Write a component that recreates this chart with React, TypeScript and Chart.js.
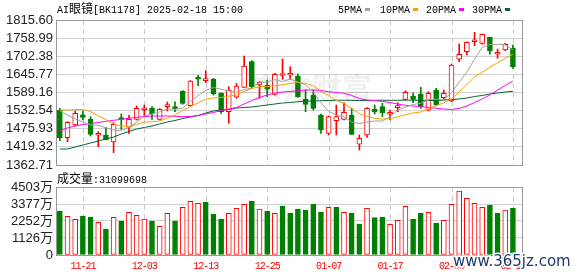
import React, { useEffect, useRef } from 'react';
import { Chart, registerables } from 'chart.js';
Chart.register(...registerables);

const title = 'AI眼镜[BK1178] 2025-02-18 15:00';
const volumeLabel = '成交量:31099698';
const legendNames = ['5PMA', '10PMA', '20PMA', '30PMA'];

const dates = [
  '11-18','11-19','11-20','11-21','11-22','11-25','11-26','11-27','11-28','11-29',
  '12-02','12-03','12-04','12-05','12-06','12-09','12-10','12-11','12-12','12-13',
  '12-16','12-17','12-18','12-19','12-20','12-23','12-24','12-25','12-26','12-27',
  '12-30','12-31','01-02','01-03','01-06','01-07','01-08','01-09','01-10','01-13',
  '01-14','01-15','01-16','01-17','01-20','01-21','01-22','01-23','01-24','01-27',
  '02-05','02-06','02-07','02-10','02-11','02-12','02-13','02-14','02-17','02-18',
];
const labelIndex = [3, 11, 19, 27, 35, 43, 51, 59];

const opens = [
  1533.6,1448.0,1487.6,1519.8,1506.4,1455.5,1456.4,1434.5,1508.0,1480.5,
  1505.4,1535.4,1539.8,1505.4,1544.8,1541.7,1593.8,1547.9,1632.3,1626.0,
  1631.3,1586.7,1529.2,1574.2,1605.4,1685.4,1612.6,1612.6,1583.5,1642.3,
  1642.9,1640.7,1568.9,1581.3,1518.9,1461.7,1501.1,1505.4,1518.9,1427.4,
  1456.4,1537.6,1544.8,1521.1,1541.7,1567.9,1578.2,1583.5,1533.6,1597.0,
  1572.9,1562.6,1692.9,1716.6,1747.8,1742.8,1761.6,1708.5,1721.9,1727.2,
];
const highs = [
  1539.8,1498.0,1531.4,1531.4,1513.6,1466.7,1480.5,1494.8,1522.0,1518.0,
  1547.0,1550.1,1544.8,1538.6,1559.5,1560.4,1595.0,1626.6,1642.9,1657.2,
  1633.5,1588.5,1607.3,1617.9,1703.2,1688.5,1622.9,1628.2,1649.1,1693.8,
  1669.7,1646.9,1597.0,1597.0,1522.0,1515.8,1550.1,1557.3,1539.8,1456.4,
  1541.7,1550.1,1555.4,1534.5,1557.3,1594.8,1588.5,1605.4,1591.6,1602.3,
  1597.0,1678.2,1740.6,1747.8,1777.2,1771.9,1762.5,1725.0,1742.8,1737.5,
];
const lows = [
  1438.6,1435.5,1484.5,1503.3,1453.3,1419.9,1440.8,1401.1,1474.2,1461.7,
  1503.3,1512.6,1505.4,1503.3,1531.4,1529.2,1552.3,1547.0,1610.4,1619.8,
  1581.3,1524.2,1493.0,1571.0,1604.8,1602.3,1571.0,1576.0,1581.3,1630.4,
  1630.4,1574.0,1529.2,1534.5,1461.7,1456.4,1456.4,1503.3,1458.0,1409.6,
  1449.2,1522.0,1513.6,1503.3,1529.2,1565.7,1557.3,1539.8,1531.4,1547.0,
  1565.7,1560.4,1685.4,1706.3,1735.3,1739.7,1708.5,1696.0,1719.7,1664.7,
];
const closes = [
  1448.0,1496.1,1524.2,1511.7,1458.6,1458.6,1441.7,1489.8,1504.8,1505.4,
  1539.8,1538.6,1522.0,1536.7,1549.2,1538.6,1555.4,1625.1,1630.4,1628.2,
  1584.5,1529.2,1597.0,1609.5,1671.9,1607.3,1621.0,1599.2,1646.0,1644.4,
  1644.8,1576.0,1552.3,1539.8,1472.0,1513.6,1513.6,1527.3,1458.6,1446.1,
  1539.8,1529.2,1526.1,1526.1,1547.9,1589.8,1567.9,1544.8,1586.7,1550.1,
  1586.7,1675.0,1708.5,1745.9,1750.0,1770.9,1719.7,1711.6,1739.7,1669.7,
];

const ma5 = [
  1531.4,1518.9,1506.4,1497.0,1487.7,1487.0,1479.0,1472.1,1470.7,1480.1,
  1496.3,1515.7,1522.1,1528.5,1537.3,1537.0,1540.4,1561.0,1579.7,1595.5,
  1604.7,1599.5,1593.9,1589.7,1598.4,1603.0,1621.3,1621.8,1629.1,1623.6,
  1631.1,1622.1,1612.7,1591.5,1557.0,1530.7,1518.3,1513.3,1497.0,1491.8,
  1497.1,1500.2,1500.0,1513.5,1533.8,1543.8,1551.6,1555.3,1567.4,1567.9,
  1567.2,1588.7,1621.4,1653.2,1693.2,1730.1,1739.0,1739.6,1738.4,1722.3,
];
const ma10 = [
  1534.5,1534.5,1535.4,1536.7,1529.2,1515.8,1504.8,1490.8,1484.5,1482.3,
  1489.2,1497.0,1497.6,1500.1,1508.9,1518.9,1533.0,1545.4,1556.4,1568.2,
  1572.0,1573.5,1577.6,1582.3,1592.3,1601.3,1607.9,1607.9,1610.1,1613.2,
  1617.3,1620.4,1617.6,1610.1,1592.9,1578.8,1564.8,1554.8,1539.2,1523.3,
  1513.9,1508.6,1506.4,1507.3,1513.3,1519.8,1525.1,1528.2,1538.3,1548.2,
  1556.7,1569.5,1590.7,1614.1,1637.6,1652.6,1667.6,1682.2,1696.0,1708.5,
];
const ma20 = [
  1468.9,1478.3,1484.5,1489.2,1492.3,1495.4,1499.2,1502.3,1505.4,1508.6,
  1511.7,1513.6,1515.8,1515.8,1515.8,1514.8,1513.6,1514.2,1517.3,1522.0,
  1526.7,1533.0,1537.6,1542.3,1553.2,1564.2,1573.5,1581.3,1587.6,1590.7,
  1592.3,1594.5,1597.0,1597.0,1595.4,1591.7,1589.2,1586.7,1579.8,1570.4,
  1565.7,1563.5,1561.0,1557.9,1553.2,1549.2,1547.0,1544.8,1542.9,1539.8,
  1537.6,1536.1,1539.2,1547.0,1557.9,1568.9,1581.3,1597.0,1611.0,1625.1,
];
const ma30 = [
  1412.7,1412.7,1418.9,1425.2,1431.4,1437.7,1443.9,1450.2,1459.5,1467.3,
  1475.1,1479.8,1484.5,1490.8,1497.0,1501.7,1508.0,1512.6,1517.3,1525.1,
  1531.4,1534.5,1536.1,1540.8,1542.3,1543.9,1547.0,1550.1,1553.2,1556.4,
  1557.9,1560.4,1562.6,1562.6,1563.5,1564.2,1564.8,1565.1,1564.6,1564.3,
  1564.5,1564.9,1565.0,1564.7,1564.9,1565.3,1565.1,1564.9,1564.2,1564.2,
  1565.7,1567.3,1568.9,1572.0,1576.7,1579.8,1584.5,1587.6,1590.7,1592.9,
];

// volume in 万
const volumes = [
  2914,2561,2363,2583,2517,2164,1722,2495,2252,2826,
  2628,2385,2252,1899,2760,2252,3157,3555,3422,3511,
  2716,2385,2760,3091,3356,3577,3047,2914,2760,3246,
  2782,3047,2981,3378,2848,3157,3180,2826,2782,2053,
  3091,2473,2517,2031,2296,3224,2385,2782,2826,2120,
  2296,3356,4239,3754,3422,3157,3312,2782,2981,3110,
];
const volumeUp = [
  0,1,1,0,0,1,0,1,0,1,
  1,1,0,1,1,0,1,1,1,0,
  0,0,1,1,1,0,1,0,1,0,
  0,0,0,0,0,1,0,1,0,0,
  1,0,0,1,1,1,0,0,1,0,
  1,1,1,1,1,1,0,0,1,0,
];

const priceTicks = [1362.71, 1419.32, 1475.93, 1532.54, 1589.16, 1645.77, 1702.38, 1758.99, 1815.60];
const volumeTicks = [0, 1126, 2252, 3377, 4503];

const RED = '#ff0000';
const GREEN = '#008000';
const MA_COLORS = ['#a0a0a0', '#f5a000', '#ff00ff', '#006633'];
const GRID = '#d0d0d0';
const FRAME = '#999999';
const MONO = '10px "Liberation Mono"';
const CJK = '12px "Noto Sans CJK SC"';
const AXIS_FONT = { family: '"Liberation Sans", "Noto Sans CJK SC", sans-serif', size: 13 };

function drawMixed(ctx: CanvasRenderingContext2D, text: string, x: number, y: number) {
  let cx = x;
  for (const ch of Array.from(text)) {
    const isCjk = /[\u2e80-\u9fff\uff00-\uffef]/.test(ch);
    ctx.font = isCjk ? CJK : MONO;
    ctx.fillText(ch, cx, y);
    cx += ctx.measureText(ch).width;
  }
  return cx;
}

function drawFrame(chart: any) {
  const { ctx, chartArea: a } = chart;
  ctx.save();
  ctx.strokeStyle = FRAME;
  ctx.lineWidth = 1;
  const l = Math.round(a.left) + 0.5;
  const t = Math.round(a.top) + 0.5;
  const r = Math.round(a.right) + 0.5;
  const b = Math.round(a.bottom) + 0.5;
  ctx.strokeRect(l, t, r - l, b - t);
  ctx.restore();
}

function drawVGrid(chart: any) {
  const { ctx, chartArea: a, scales } = chart;
  ctx.save();
  ctx.strokeStyle = '#c8c8c8';
  ctx.lineWidth = 1;
  ctx.setLineDash([5, 4]);
  for (const idx of labelIndex) {
    const x = Math.round(scales.x.getPixelForValue(idx)) + 0.5;
    ctx.beginPath();
    ctx.moveTo(x, a.top);
    ctx.lineTo(x, a.bottom);
    ctx.stroke();
  }
  ctx.restore();
}

const topDecor = {
  id: 'topDecor',
  beforeDatasetsDraw(chart: any) {
    const { ctx, chartArea: a } = chart;
    ctx.save();
    ctx.font = 'bold 30px "Noto Sans CJK SC"';
    ctx.fillStyle = 'rgba(0,0,0,0.06)';
    ctx.textAlign = 'center';
    ctx.textBaseline = 'middle';
    ctx.fillText('东方财富', a.left + 256, a.top + 68);
    ctx.restore();
    drawVGrid(chart);
  },
  afterDraw(chart: any) {
    drawFrame(chart);
    const { ctx } = chart;
    ctx.save();
    ctx.fillStyle = '#000';
    ctx.textAlign = 'left';
    ctx.textBaseline = 'alphabetic';
    drawMixed(ctx, title, 57, 13);
    const legendX = [338, 380, 426, 472];
    ctx.font = MONO;
    legendNames.forEach((name, k) => {
      ctx.fillStyle = '#000';
      ctx.fillText(name, legendX[k], 13);
      const w = ctx.measureText(name).width;
      ctx.fillStyle = MA_COLORS[k];
      ctx.fillRect(Math.round(legendX[k] + w + 3), 8, 5, 3);
    });
    ctx.restore();
  },
};

const botDecor = {
  id: 'botDecor',
  beforeDatasetsDraw(chart: any) {
    drawVGrid(chart);
  },
  afterDraw(chart: any) {
    drawFrame(chart);
    const { ctx, scales } = chart;
    ctx.save();
    ctx.fillStyle = '#000';
    ctx.textAlign = 'left';
    ctx.textBaseline = 'alphabetic';
    drawMixed(ctx, volumeLabel, 57, 183);
    ctx.font = MONO;
    (ctx as any).letterSpacing = '-1px';
    ctx.fillStyle = RED;
    ctx.textAlign = 'center';
    ctx.textBaseline = 'middle';
    for (const idx of labelIndex) {
      ctx.fillText(dates[idx], scales.x.getPixelForValue(idx), 266);
    }
    (ctx as any).letterSpacing = '0px';
    ctx.textAlign = 'left';
    ctx.textBaseline = 'alphabetic';
    ctx.font = '15px "DejaVu Sans"';
    ctx.lineWidth = 3;
    ctx.strokeStyle = '#ffffff';
    ctx.strokeText('www.365jz.com', 453, 266);
    ctx.fillStyle = '#1f3a6e';
    ctx.fillText('www.365jz.com', 453, 266);
    ctx.restore();
  },
};

function makeX(n: number): any {
  return { type: 'linear', min: -0.5, max: n + 0.18, bounds: 'data', offset: false, display: false };
}

export default function App() {
  const topRef = useRef<HTMLCanvasElement>(null);
  const botRef = useRef<HTMLCanvasElement>(null);

  useEffect(() => {
    const n = dates.length;
    const up = opens.map((o, i) => closes[i] >= o);

    const maSets = [ma5, ma10, ma20, ma30].map((arr, k) => ({
      type: 'line' as const,
      label: legendNames[k],
      data: arr.map((v, i) => ({ x: i, y: v })),
      borderColor: MA_COLORS[k],
      borderWidth: 1,
      pointRadius: 0,
      tension: 0,
      fill: false,
      order: 0,
    }));

    const top = new Chart(topRef.current as HTMLCanvasElement, {
      type: 'bar',
      data: {
        datasets: [
          ...maSets,
          {
            type: 'bar',
            label: 'body',
            data: opens.map((o, i) => ({ x: i, y: [o, closes[i]] })),
            backgroundColor: up.map((u) => (u ? '#ffffff' : GREEN)),
            borderColor: up.map((u) => (u ? RED : GREEN)),
            borderWidth: 1,
            borderSkipped: false,
            barThickness: 5,
            minBarLength: 2,
            grouped: false,
            order: 1,
          },
          {
            type: 'bar',
            label: 'wick',
            data: lows.map((l, i) => ({ x: i, y: [l, highs[i]] })),
            backgroundColor: up.map((u) => (u ? RED : GREEN)),
            borderWidth: 0,
            barThickness: 1,
            grouped: false,
            order: 2,
          },
        ] as any,
      },
      options: {
        responsive: false,
        animation: false,
        events: [],
        layout: { padding: { left: 0, right: 56, top: 20, bottom: 111 } },
        plugins: { legend: { display: false }, tooltip: { enabled: false } },
        scales: {
          x: makeX(n),
          y: {
            min: 1362.71,
            max: 1815.6,
            afterBuildTicks: (s: any) => {
              s.ticks = priceTicks.map((v) => ({ value: v }));
            },
            afterFit: (s: any) => {
              s.width = 56;
            },
            ticks: {
              autoSkip: false,
              callback: (v: any) => Number(v).toFixed(2),
              font: AXIS_FONT,
              color: '#222',
              padding: 3,
            },
            grid: { color: GRID, drawTicks: false },
            border: { display: false },
          },
        },
      } as any,
      plugins: [topDecor],
    });

    const bot = new Chart(botRef.current as HTMLCanvasElement, {
      type: 'bar',
      data: {
        datasets: [
          {
            label: 'volume',
            data: volumes.map((v, i) => ({ x: i, y: v })),
            backgroundColor: volumeUp.map((u) => (u ? '#ffffff' : GREEN)),
            borderColor: volumeUp.map((u) => (u ? RED : GREEN)),
            borderWidth: 1,
            borderSkipped: false,
            barThickness: 5,
            grouped: false,
          },
        ] as any,
      },
      options: {
        responsive: false,
        animation: false,
        events: [],
        layout: { padding: { left: 0, right: 56, top: 187, bottom: 21 } },
        plugins: { legend: { display: false }, tooltip: { enabled: false } },
        scales: {
          x: makeX(n),
          y: {
            min: 0,
            max: 4503,
            afterBuildTicks: (s: any) => {
              s.ticks = volumeTicks.map((v) => ({ value: v }));
            },
            afterFit: (s: any) => {
              s.width = 56;
            },
            ticks: {
              autoSkip: false,
              callback: (v: any) => (Number(v) === 0 ? '0' : `${v}万`),
              font: AXIS_FONT,
              color: '#222',
              padding: 3,
            },
            grid: { color: GRID, drawTicks: false },
            border: { display: false },
          },
        },
      } as any,
      plugins: [botDecor],
    });

    return () => {
      top.destroy();
      bot.destroy();
    };
  }, []);

  return (
    <div style={{ position: 'fixed', left: 0, top: 0, width: 578, height: 276, background: '#fff' }}>
      <canvas ref={botRef} width={578} height={276} style={{ position: 'absolute', left: 0, top: 0 }} />
      <canvas ref={topRef} width={578} height={276} style={{ position: 'absolute', left: 0, top: 0 }} />
    </div>
  );
}
